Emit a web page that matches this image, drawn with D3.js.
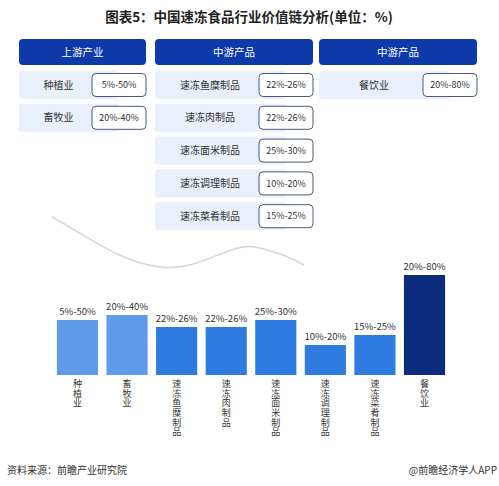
<!DOCTYPE html>
<html><head><meta charset="utf-8">
<script src="https://cdn.jsdelivr.net/npm/d3@7/dist/d3.min.js"></script>
<style>body{margin:0;background:#fff;}svg{display:block;font-family:"Noto Sans CJK SC","Noto Sans",sans-serif;}</style>
</head><body>
<script>
const categories = ["种植业","畜牧业","速冻鱼糜制品","速冻肉制品","速冻面米制品","速冻调理制品","速冻菜肴制品","餐饮业"];
const rangeLabels = ["5%-50%","20%-40%","22%-26%","22%-26%","25%-30%","10%-20%","15%-25%","20%-80%"];
const values = [27.5,30,24,24,27.5,15,20,50];
const groupOf = [0,0,1,1,1,1,1,2];
const groupHeaders = ["上游产业","中游产品","中游产品"];
const barColors = ["#5f9be8","#5f9be8","#2f7be0","#2f7be0","#2f7be0","#2f7be0","#2f7be0","#0b2b7c"];

const W=499,H=486;
const svg=d3.select("body").append("svg").attr("width",W).attr("height",H);

// title
svg.append("text").attr("x",249).attr("y",22).attr("text-anchor","middle")
  .attr("font-size",13.5).attr("font-weight","bold").attr("fill","#222")
  .text("图表5：中国速冻食品行业价值链分析(单位：%)");

// decorative swoosh
svg.append("path").attr("d","M52,217 C90,238 120,262 160,267 C200,272 230,242 255,247 C275,251 292,258 304,265")
  .attr("fill","none").attr("stroke","#d6d6d6").attr("stroke-width",1.5);

// table
const cols=[{x0:19,x1:146},{x0:155,x1:313},{x0:319,x1:477}];
const boxW=54, rowTop=71, rowPitch=32.8, rowH=28;
const gCols=svg.append("g");
groupHeaders.forEach((h,gi)=>{
  const c=cols[gi];
  gCols.append("rect").attr("x",c.x0).attr("y",39).attr("width",c.x1-c.x0).attr("height",26)
    .attr("rx",4).attr("fill","#0d3aa8");
  gCols.append("text").attr("x",(c.x0+c.x1)/2).attr("y",56).attr("text-anchor","middle")
    .attr("font-size",10.5).attr("fill","#fff").text(h);
});
const rowIdx=[];const counts=[0,0,0];
groupOf.forEach((g,i)=>{rowIdx.push(counts[g]++);});
categories.forEach((cat,i)=>{
  const c=cols[groupOf[i]], r=rowIdx[i];
  const y=rowTop+r*rowPitch;
  const bx=c.x1-boxW;
  gCols.append("rect").attr("x",c.x0).attr("y",y).attr("width",bx-c.x0+boxW/2).attr("height",rowH)
    .attr("rx",3).attr("fill","#e9f0fb");
  gCols.append("rect").attr("x",bx).attr("y",y+2.5).attr("width",boxW).attr("height",rowH-5)
    .attr("rx",4).attr("fill","#fff").attr("stroke","#4d5a75").attr("stroke-width",1);
  gCols.append("text").attr("x",(c.x0+bx)/2+3).attr("y",y+rowH/2+3.5).attr("text-anchor","middle")
    .attr("font-size",10).attr("fill","#333").text(cat);
  gCols.append("text").attr("x",bx+boxW/2).attr("y",y+rowH/2+3.2).attr("text-anchor","middle")
    .attr("font-size",9).attr("fill","#333").text(rangeLabels[i]);
});

// bar chart
const x=d3.scaleBand().domain(categories).range([52.7,449.3]).paddingInner(0.17).paddingOuter(0.085);
const y=d3.scaleLinear().domain([0,50]).range([375,275]);
const gB=svg.append("g");
gB.selectAll("rect.bar").data(categories).join("rect").attr("class","bar")
  .attr("x",d=>x(d)).attr("width",x.bandwidth())
  .attr("y",(d,i)=>y(values[i])).attr("height",(d,i)=>y(0)-y(values[i]))
  .attr("fill",(d,i)=>barColors[i]);
gB.selectAll("text.val").data(categories).join("text").attr("class","val")
  .attr("x",d=>x(d)+x.bandwidth()/2).attr("y",(d,i)=>y(values[i])-5)
  .attr("text-anchor","middle").attr("font-size",9.5).attr("fill","#333")
  .text((d,i)=>rangeLabels[i]);
gB.selectAll("text.xl").data(categories).join("text").attr("class","xl")
  .attr("x",d=>x(d)+x.bandwidth()/2).attr("y",379)
  .style("writing-mode","vertical-rl").style("text-orientation","upright")
  .attr("font-size",9).attr("letter-spacing",0.7).attr("fill","#333")
  .text(d=>d);

// footer
svg.append("text").attr("x",7).attr("y",474).attr("font-size",10).attr("fill","#333").text("资料来源：前瞻产业研究院");
svg.append("text").attr("x",497).attr("y",474).attr("text-anchor","end").attr("font-size",10).attr("fill","#333").text("@前瞻经济学人APP");
</script>
</body></html>
